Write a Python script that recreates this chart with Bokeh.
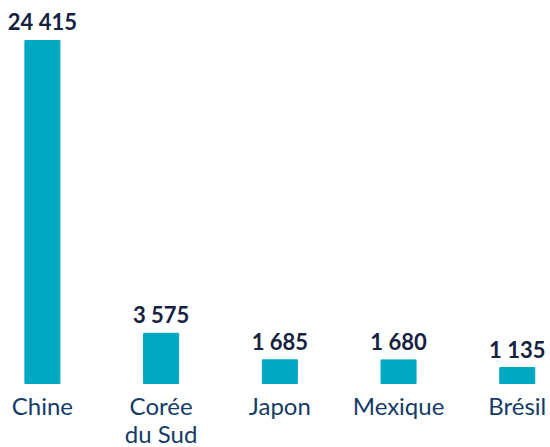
import numpy as np
from bokeh.plotting import figure
from bokeh.models import Range1d, ColumnDataSource
from bokeh.core.properties import value
from bokeh.embed import file_html
from bokeh.resources import INLINE

categories = ["Chine", "Corée\ndu Sud", "Japon", "Mexique", "Brésil"]
values = [24415, 3575, 1685, 1680, 1135]
value_labels = ["24 415", "3 575", "1 685", "1 680", "1 135"]

x = np.arange(len(categories))
src = ColumnDataSource(dict(x=x, v=values, lab=value_labels, cat=categories,
                            zero=[0] * len(categories)))

p = figure(width=550, height=447, output_backend="svg", toolbar_location=None,
           x_range=Range1d(-0.353, 4.280), y_range=Range1d(-4555, 27262),
           min_border=0, outline_line_color=None)
p.axis.visible = False
p.grid.visible = False

p.vbar(x="x", top="v", bottom=0, width=0.295, color="#00A8C1", source=src)

p.text(x="x", y="v", text="lab", source=src, text_align="center",
       text_baseline="bottom", y_offset=-5,
       text_font=value("Lato"), text_font_style="bold",
       text_font_size="22px", text_color="#14213F")

p.text(x="x", y="zero", text="cat", source=src, text_align="center",
       text_baseline="top", y_offset=7, text_line_height=0.98,
       text_font=value("Lato"), text_font_size="24px", text_color="#143C66")

open("out.html", "w").write(file_html(p, INLINE))
